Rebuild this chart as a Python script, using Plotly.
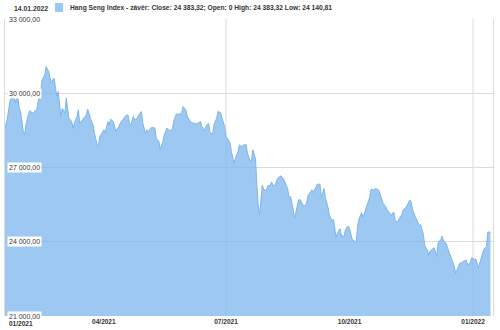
import plotly.graph_objects as go

# ---------------- data ----------------
dates = [
    "2021-01-17", "2021-01-19", "2021-01-21", "2021-01-22", "2021-01-23", "2021-01-24", "2021-01-25",
    "2021-01-26", "2021-01-27", "2021-01-28", "2021-01-29", "2021-01-30", "2021-01-31", "2021-02-01",
    "2021-02-02", "2021-02-04", "2021-02-05", "2021-02-07", "2021-02-08", "2021-02-10", "2021-02-11",
    "2021-02-13", "2021-02-14", "2021-02-16", "2021-02-17", "2021-02-19", "2021-02-20", "2021-02-21",
    "2021-02-22", "2021-02-23", "2021-02-24", "2021-02-25", "2021-02-26", "2021-02-27", "2021-02-28",
    "2021-03-01", "2021-03-03", "2021-03-04", "2021-03-05", "2021-03-06", "2021-03-08", "2021-03-09",
    "2021-03-10", "2021-03-12", "2021-03-13", "2021-03-14", "2021-03-16", "2021-03-17", "2021-03-19",
    "2021-03-20", "2021-03-21", "2021-03-22", "2021-03-24", "2021-03-25", "2021-03-27", "2021-03-28",
    "2021-03-29", "2021-03-31", "2021-04-01", "2021-04-02", "2021-04-04", "2021-04-05", "2021-04-06",
    "2021-04-08", "2021-04-09", "2021-04-10", "2021-04-12", "2021-04-13", "2021-04-14", "2021-04-16",
    "2021-04-17", "2021-04-19", "2021-04-20", "2021-04-21", "2021-04-23", "2021-04-24", "2021-04-26",
    "2021-04-27", "2021-04-29", "2021-04-30", "2021-05-02", "2021-05-03", "2021-05-04", "2021-05-06",
    "2021-05-07", "2021-05-09", "2021-05-10", "2021-05-12", "2021-05-13", "2021-05-15", "2021-05-16",
    "2021-05-18", "2021-05-19", "2021-05-21", "2021-05-22", "2021-05-23", "2021-05-25", "2021-05-26",
    "2021-05-28", "2021-05-29", "2021-05-30", "2021-06-01", "2021-06-02", "2021-06-04", "2021-06-05",
    "2021-06-07", "2021-06-09", "2021-06-10", "2021-06-12", "2021-06-13", "2021-06-15", "2021-06-16",
    "2021-06-18", "2021-06-19", "2021-06-21", "2021-06-22", "2021-06-24", "2021-06-25", "2021-06-27",
    "2021-06-28", "2021-06-30", "2021-07-01", "2021-07-03", "2021-07-04", "2021-07-05", "2021-07-07",
    "2021-07-08", "2021-07-10", "2021-07-11", "2021-07-13", "2021-07-14", "2021-07-16", "2021-07-17",
    "2021-07-19", "2021-07-20", "2021-07-21", "2021-07-23", "2021-07-24", "2021-07-25", "2021-07-26",
    "2021-07-27", "2021-07-28", "2021-07-29", "2021-07-31", "2021-08-01", "2021-08-03", "2021-08-04",
    "2021-08-05", "2021-08-07", "2021-08-08", "2021-08-10", "2021-08-11", "2021-08-13", "2021-08-14",
    "2021-08-16", "2021-08-17", "2021-08-18", "2021-08-20", "2021-08-21", "2021-08-22", "2021-08-24",
    "2021-08-25", "2021-08-27", "2021-08-28", "2021-08-30", "2021-08-31", "2021-09-02", "2021-09-03",
    "2021-09-04", "2021-09-06", "2021-09-07", "2021-09-09", "2021-09-10", "2021-09-12", "2021-09-13",
    "2021-09-15", "2021-09-16", "2021-09-18", "2021-09-19", "2021-09-21", "2021-09-22", "2021-09-24",
    "2021-09-25", "2021-09-27", "2021-09-28", "2021-09-30", "2021-10-01", "2021-10-03", "2021-10-04",
    "2021-10-06", "2021-10-07", "2021-10-08", "2021-10-10", "2021-10-11", "2021-10-13", "2021-10-14",
    "2021-10-16", "2021-10-17", "2021-10-19", "2021-10-20", "2021-10-22", "2021-10-23", "2021-10-25",
    "2021-10-26", "2021-10-28", "2021-10-29", "2021-10-31", "2021-11-01", "2021-11-03", "2021-11-04",
    "2021-11-06", "2021-11-07", "2021-11-09", "2021-11-10", "2021-11-12", "2021-11-13", "2021-11-15",
    "2021-11-16", "2021-11-17", "2021-11-19", "2021-11-20", "2021-11-22", "2021-11-23", "2021-11-25",
    "2021-11-26", "2021-11-28", "2021-11-29", "2021-11-30", "2021-12-02", "2021-12-03", "2021-12-05",
    "2021-12-06", "2021-12-08", "2021-12-09", "2021-12-10", "2021-12-12", "2021-12-13", "2021-12-15",
    "2021-12-16", "2021-12-18", "2021-12-19", "2021-12-21", "2021-12-22", "2021-12-24", "2021-12-25",
    "2021-12-27", "2021-12-28", "2021-12-30", "2021-12-31", "2022-01-02", "2022-01-03", "2022-01-05",
    "2022-01-06", "2022-01-08", "2022-01-09", "2022-01-11", "2022-01-12", "2022-01-14",
]

close_values = [
    28520, 28924, 29664, 29865, 29758, 29865, 29623,
    29825, 29798, 29395, 29260, 28790, 28450, 28320,
    28720, 29190, 29300, 29190, 29260, 29355, 29664,
    30067, 30540, 30740, 31076, 30870, 30605, 30430,
    30540, 30605, 30200, 29865, 30067, 29600, 29060,
    29395, 29190, 29800, 29460, 28990, 28860, 28590,
    28790, 29060, 29330, 28790, 28924, 28990, 29125,
    29355, 29125, 28990, 28720, 28385, 27915, 27875,
    28250, 28410, 28520, 28385, 28860, 28720, 28950,
    28860, 28655, 28450, 28655, 28790, 28860, 28990,
    29085, 29125, 28790, 28720, 29060, 28924, 28990,
    29125, 29260, 28790, 28385, 28520, 28450, 28590,
    28630, 28590, 28185, 28050, 27740, 28050, 28320,
    28590, 28520, 28495, 28520, 28860, 29165, 29150,
    29165, 29220, 29460, 29330, 29085, 28900, 28815,
    28790, 28760, 28790, 28860, 28655, 28495, 28655,
    28790, 28450, 28320, 28720, 28990, 29260, 29220,
    28990, 28655, 28250, 28115, 27980, 27645, 27175,
    27375, 27645, 27915, 27820, 27915, 27915, 27580,
    27240, 27310, 27716, 27338, 26257, 25446, 25109,
    25580, 26284, 26122, 26054, 26257, 26284, 26419,
    26257, 26324, 26527, 26635, 26662, 26527, 26392,
    26122, 25784, 25825, 25311, 24933, 25176, 25689,
    25716, 25473, 25419, 25554, 25852, 26014, 26095,
    25987, 26189, 26324, 26324, 25784, 26149, 25784,
    25379, 25068, 24838, 24906, 24163, 24366, 24528,
    24230, 24230, 24501, 24636, 24528, 24095, 24068,
    23960, 24636, 24906, 25176, 24973, 25311, 25419,
    25784, 26122, 26095, 26149, 26122, 26054, 25716,
    25554, 25419, 25284, 25149, 25068, 25203, 24838,
    24798, 24933, 25109, 25284, 25379, 25473, 25689,
    25581, 25284, 25014, 24906, 24663, 24690, 24298,
    23852, 23663, 23447, 23622, 23717, 23757, 23420,
    23960, 24095, 24230, 24028, 23933, 23757, 23487,
    23312, 23015, 22717, 23015, 23123, 23177, 23217,
    23258, 23042, 23177, 23352, 23285, 23312, 22947,
    23150, 23555, 23690, 23798, 24393, 24383.32,
]

y_ticks = [21000, 24000, 27000, 30000, 33000]
x_tick_dates = ["2021-01-01", "2021-04-01", "2021-07-01", "2021-10-01", "2022-01-01"]
x_tick_labels = ["01/2021", "04/2021", "07/2021", "10/2021", "01/2022"]
x_grid_dates = ["2021-07-01", "2022-01-01"]
x_range = ["2021-01-17 09:00", "2022-01-15 21:00"]

header_date = "14.01.2022"
series_name = "Hang Seng Index - závěr"
last_close, last_open, last_high, last_low = 24383.32, 0, 24383.32, 24140.81


def fmt(v):
    return f"{v:,.2f}".replace(",", " ").replace(".", ",")


def fmt_int(v):
    return f"{v:g}" if v == 0 else fmt(v)


FILL = "rgba(124,181,236,0.75)"
LINE = "#7cb5ec"
GRID = "#dcdcdc"
FONT = "Liberation Sans, Arial, sans-serif"

fig = go.Figure()
fig.add_trace(go.Scatter(
    x=dates, y=close_values, mode="lines", fill="tozeroy",
    fillcolor=FILL, line=dict(color=LINE, width=1),
    hoverinfo="skip", showlegend=False,
))

shapes = []
for d in x_grid_dates:
    shapes.append(dict(type="line", xref="x", yref="paper", x0=d, x1=d, y0=0, y1=1,
                       line=dict(color=GRID, width=1), layer="below"))
# legend swatch
shapes.append(dict(type="rect", xref="paper", yref="paper",
                   x0=0.1025, x1=0.1189, y0=1.0236, y1=1.0539,
                   fillcolor="#99c9f4", line=dict(width=0)))

annotations = []
for v in y_ticks:
    annotations.append(dict(
        xref="paper", yref="y", x=0, y=v, xanchor="left", yanchor="middle",
        xshift=2, text=fmt(v), showarrow=False, bgcolor="white", borderpad=1,
        font=dict(family=FONT, size=7, color="#333333"),
    ))

# tick labels that fall before the visible range sit at the left edge
range_start = x_range[0][:10]
visible_vals, visible_text = [], []
for d, lab in zip(x_tick_dates, x_tick_labels):
    if d < range_start:
        annotations.append(dict(
            xref="paper", yref="paper", x=0, y=0, xanchor="left", yanchor="top",
            xshift=2, yshift=-2, text=lab, showarrow=False,
            font=dict(family=FONT, size=6.5, color="#333333", weight="bold"),
        ))
    else:
        visible_vals.append(d)
        visible_text.append(lab)

annotations.append(dict(
    xref="paper", yref="paper", x=0, y=1, xanchor="left", yanchor="middle",
    xshift=7, yshift=11, text=header_date, showarrow=False,
    font=dict(family=FONT, size=6.8, color="#333333", weight="bold"),
))
header = (f"{series_name}: Close: {fmt(last_close)}; Open: {fmt_int(last_open)} "
          f"High: {fmt(last_high)} Low: {fmt(last_low)}")
annotations.append(dict(
    xref="paper", yref="paper", x=0, y=1, xanchor="left", yanchor="middle",
    xshift=63, yshift=11, text=header, showarrow=False,
    font=dict(family=FONT, size=6.7, color="#333333", weight="bold"),
))

fig.update_layout(
    width=500, height=330,
    margin=dict(l=5, r=7, t=19, b=14),
    paper_bgcolor="white", plot_bgcolor="white",
    shapes=shapes, annotations=annotations,
    xaxis=dict(
        type="date", range=x_range, tickvals=visible_vals, ticktext=visible_text,
        showgrid=False, zeroline=False, showline=False, ticks="",
        tickfont=dict(family=FONT, size=6.5, color="#333333", weight="bold"),
    ),
    yaxis=dict(
        range=[y_ticks[0], y_ticks[-1]], tickvals=y_ticks, showticklabels=False,
        showgrid=True, gridcolor=GRID, gridwidth=1, zeroline=False,
        showline=True, mirror=True, linecolor=GRID, ticks="",
    ),
)

fig.write_html("out.html")
